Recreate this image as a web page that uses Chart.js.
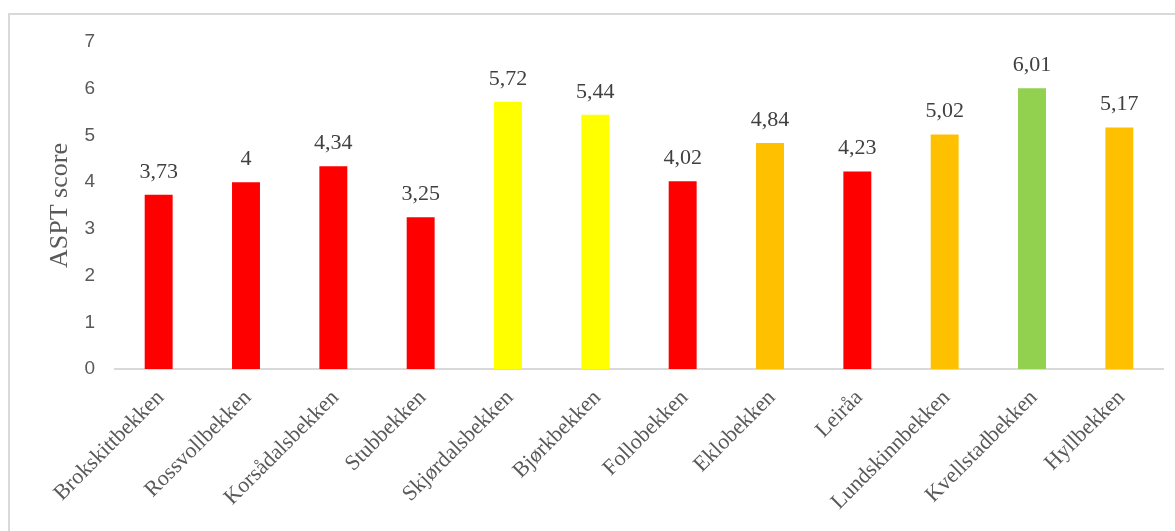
<!DOCTYPE html>
<html lang="no">
<head>
    <meta charset="UTF-8">
    <title>ASPT score</title>
    <script src="https://cdn.jsdelivr.net/npm/chart.js"></script>
    <style>
        body { margin: 0; background: #fff; overflow: hidden; }
        #frame { position: absolute; left: 8px; top: 13px; width: 1180px; height: 540px; border: 2px solid #d9d9d9; box-sizing: border-box; }
        #stats { position: absolute; left: 0; top: 0; }
    </style>
</head>
<body>
    <div id="frame"></div>
    <canvas id="stats" width="1175" height="531"></canvas>
    <script>
        const streams = ["Brokskittbekken", "Rossvollbekken", "Korsådalsbekken", "Stubbekken", "Skjørdalsbekken",
            "Bjørkbekken", "Follobekken", "Eklobekken", "Leiråa", "Lundskinnbekken", "Kvellstadbekken", "Hyllbekken"];
        const asptScores = [3.73, 4, 4.34, 3.25, 5.72, 5.44, 4.02, 4.84, 4.23, 5.02, 6.01, 5.17];
        const barColors = ["#ff0000", "#ff0000", "#ff0000", "#ff0000", "#ffff00", "#ffff00",
            "#ff0000", "#ffc000", "#ff0000", "#ffc000", "#92d050", "#ffc000"];
        const yTicks = [0, 1, 2, 3, 4, 5, 6, 7];

        const serif = "'Liberation Serif', 'Times New Roman', serif";

        const ctx = document.getElementById("stats").getContext("2d");
        new Chart(ctx, {
            type: "bar",
            data: {
                labels: streams,
                datasets: [{
                    data: asptScores,
                    backgroundColor: barColors,
                    barPercentage: 0.64,
                    categoryPercentage: 0.5
                }]
            },
            options: {
                responsive: false,
                animation: false,
                devicePixelRatio: 1,
                layout: { padding: { top: 42, right: 12, left: 0, bottom: 0 } },
                plugins: { legend: { display: false }, tooltip: { enabled: false } },
                scales: {
                    x: {
                        grid: { display: false },
                        border: { display: true, color: "#d9d9d9", width: 2 },
                        ticks: {
                            minRotation: 45,
                            maxRotation: 45,
                            autoSkip: false,
                            padding: 8,
                            labelOffset: 2,
                            color: "#595959",
                            font: { family: serif, size: 22 }
                        },
                        afterFit: (scale) => { scale.height = 162; }
                    },
                    y: {
                        min: 0,
                        max: 7,
                        grid: { display: false },
                        border: { display: false },
                        afterBuildTicks: (scale) => { scale.ticks = yTicks.map(v => ({ value: v })); },
                        ticks: {
                            padding: 12,
                            color: "#595959",
                            font: { family: "'Liberation Sans', Arial, sans-serif", size: 19 }
                        },
                        title: {
                            display: true,
                            text: "ASPT score",
                            color: "#595959",
                            font: { family: serif, size: 26 },
                            padding: { top: 45, bottom: 0 }
                        },
                        afterFit: (scale) => { scale.width = 115; }
                    }
                }
            },
            plugins: [{
                id: "valueLabels",
                afterDatasetsDraw: (chart) => {
                    const { ctx } = chart;
                    const meta = chart.getDatasetMeta(0);
                    ctx.save();
                    ctx.fillStyle = "#404040";
                    ctx.font = "22px " + serif;
                    ctx.textAlign = "center";
                    ctx.textBaseline = "alphabetic";
                    meta.data.forEach((bar, i) => {
                        ctx.fillText(String(asptScores[i]).replace(".", ","), bar.x, bar.y - 17);
                    });
                    ctx.restore();
                }
            }]
        });
    </script>
</body>
</html>
